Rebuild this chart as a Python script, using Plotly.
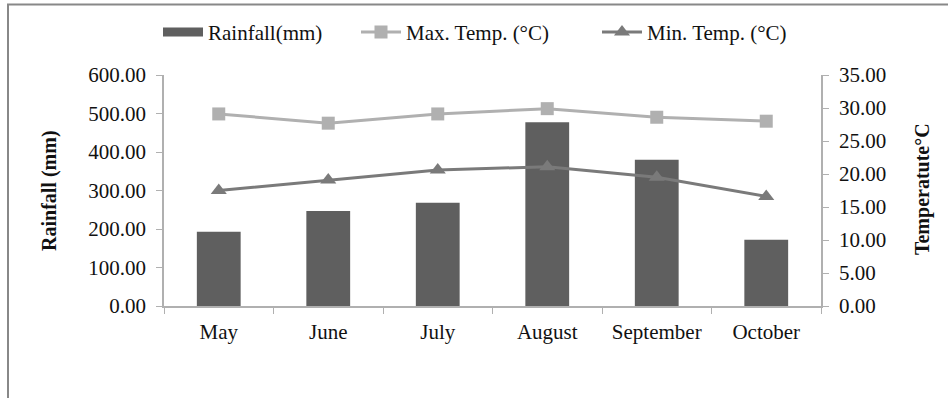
import plotly.graph_objects as go

months = ["May", "June", "July", "August", "September", "October"]
rainfall = [193, 247, 268, 477, 380, 172]
max_temp = [29.1, 27.7, 29.1, 29.9, 28.6, 28.0]
min_temp = [17.5, 19.1, 20.6, 21.1, 19.5, 16.6]
left_ticks = [0, 100, 200, 300, 400, 500, 600]
right_ticks = [0, 5, 10, 15, 20, 25, 30, 35]

FONT = "Liberation Serif"
TXT = "#111111"
W, H = 948, 398
L, R, T, B = 164, 127, 73, 92
pw = W - L - R
ph = H - T - B


def px(x):
    return (x - L) / pw


def py(y):
    return (H - B - y) / ph


fig = go.Figure()
fig.add_trace(go.Bar(x=months, y=rainfall, name="Rainfall(mm)",
                     marker=dict(color="#5f5f5f", line=dict(width=0)),
                     width=0.4, yaxis="y", showlegend=False))
# legend entry for the bars (wide swatch as in original)
fig.add_trace(go.Scatter(x=[None], y=[None], name="Rainfall(mm)", mode="lines",
                         line=dict(color="#5f5f5f", width=9), legend="legend"))
fig.add_trace(go.Scatter(x=months, y=max_temp, name="Max. Temp. (°C)",
                         mode="lines+markers", yaxis="y2", legend="legend2",
                         line=dict(color="#b0b0b0", width=3),
                         marker=dict(symbol="square", size=13, color="#b0b0b0")))
fig.add_trace(go.Scatter(x=months, y=min_temp, name="Min. Temp. (°C)",
                         mode="lines+markers", yaxis="y2", legend="legend3",
                         line=dict(color="#7a7a7a", width=3),
                         marker=dict(symbol="triangle-up", size=14, color="#7a7a7a")))

leg_common = dict(orientation="h", yanchor="middle", xanchor="left", y=py(30),
                  font=dict(family=FONT, size=21, color=TXT),
                  bgcolor="rgba(0,0,0,0)", itemwidth=40)

tick_font = dict(family=FONT, size=21, color=TXT)

fig.update_layout(
    width=W, height=H,
    margin=dict(l=L, r=R, t=T, b=B, pad=0),
    paper_bgcolor="white", plot_bgcolor="white",
    font=dict(family=FONT, size=21, color=TXT),
    showlegend=True,
    legend=dict(x=px(158), **leg_common),
    legend2=dict(x=px(356), **leg_common),
    legend3=dict(x=px(597), **leg_common),
    xaxis=dict(showline=True, linecolor="#b0b0b0", linewidth=1.5,
               ticks="outside", tickson="boundaries", ticklen=6, tickcolor="#b0b0b0",
               showgrid=False, tickfont=tick_font, ticklabelstandoff=6),
    yaxis=dict(range=[0, 600], tickvals=left_ticks, tickformat=".2f",
               showline=True, linecolor="#b0b0b0", linewidth=1.5,
               ticks="outside", ticklen=6, tickcolor="#b0b0b0",
               showgrid=False, zeroline=False, tickfont=tick_font,
               ticklabelstandoff=6),
    yaxis2=dict(range=[0, 35], tickvals=right_ticks, tickformat=".2f",
                overlaying="y", side="right",
                showline=True, linecolor="#b0b0b0", linewidth=1.5,
                ticks="outside", ticklen=6, tickcolor="#b0b0b0",
                showgrid=False, zeroline=False, tickfont=tick_font,
                ticklabelstandoff=6),
    annotations=[
        dict(text="<b>Rainfall (mm)</b>", xref="paper", yref="paper",
             x=px(50), y=py(190), textangle=-90, showarrow=False,
             xanchor="center", yanchor="middle",
             font=dict(family=FONT, size=20, color=TXT)),
        dict(text="<b>Temperatute°C</b>", xref="paper", yref="paper",
             x=px(922), y=py(188), textangle=-90, showarrow=False,
             xanchor="center", yanchor="middle",
             font=dict(family=FONT, size=20, color=TXT)),
    ],
)

# outer frame of the original figure (left and top edges visible)
fig.add_shape(type="rect", xref="paper", yref="paper",
              x0=px(8), x1=px(W + 20), y0=py(H + 20), y1=py(2),
              line=dict(color="#888888", width=2), fillcolor="rgba(0,0,0,0)",
              layer="below")

fig.write_html("out.html", config={"displayModeBar": False},
               post_script="document.body.style.margin='0';document.body.style.padding='0';")
